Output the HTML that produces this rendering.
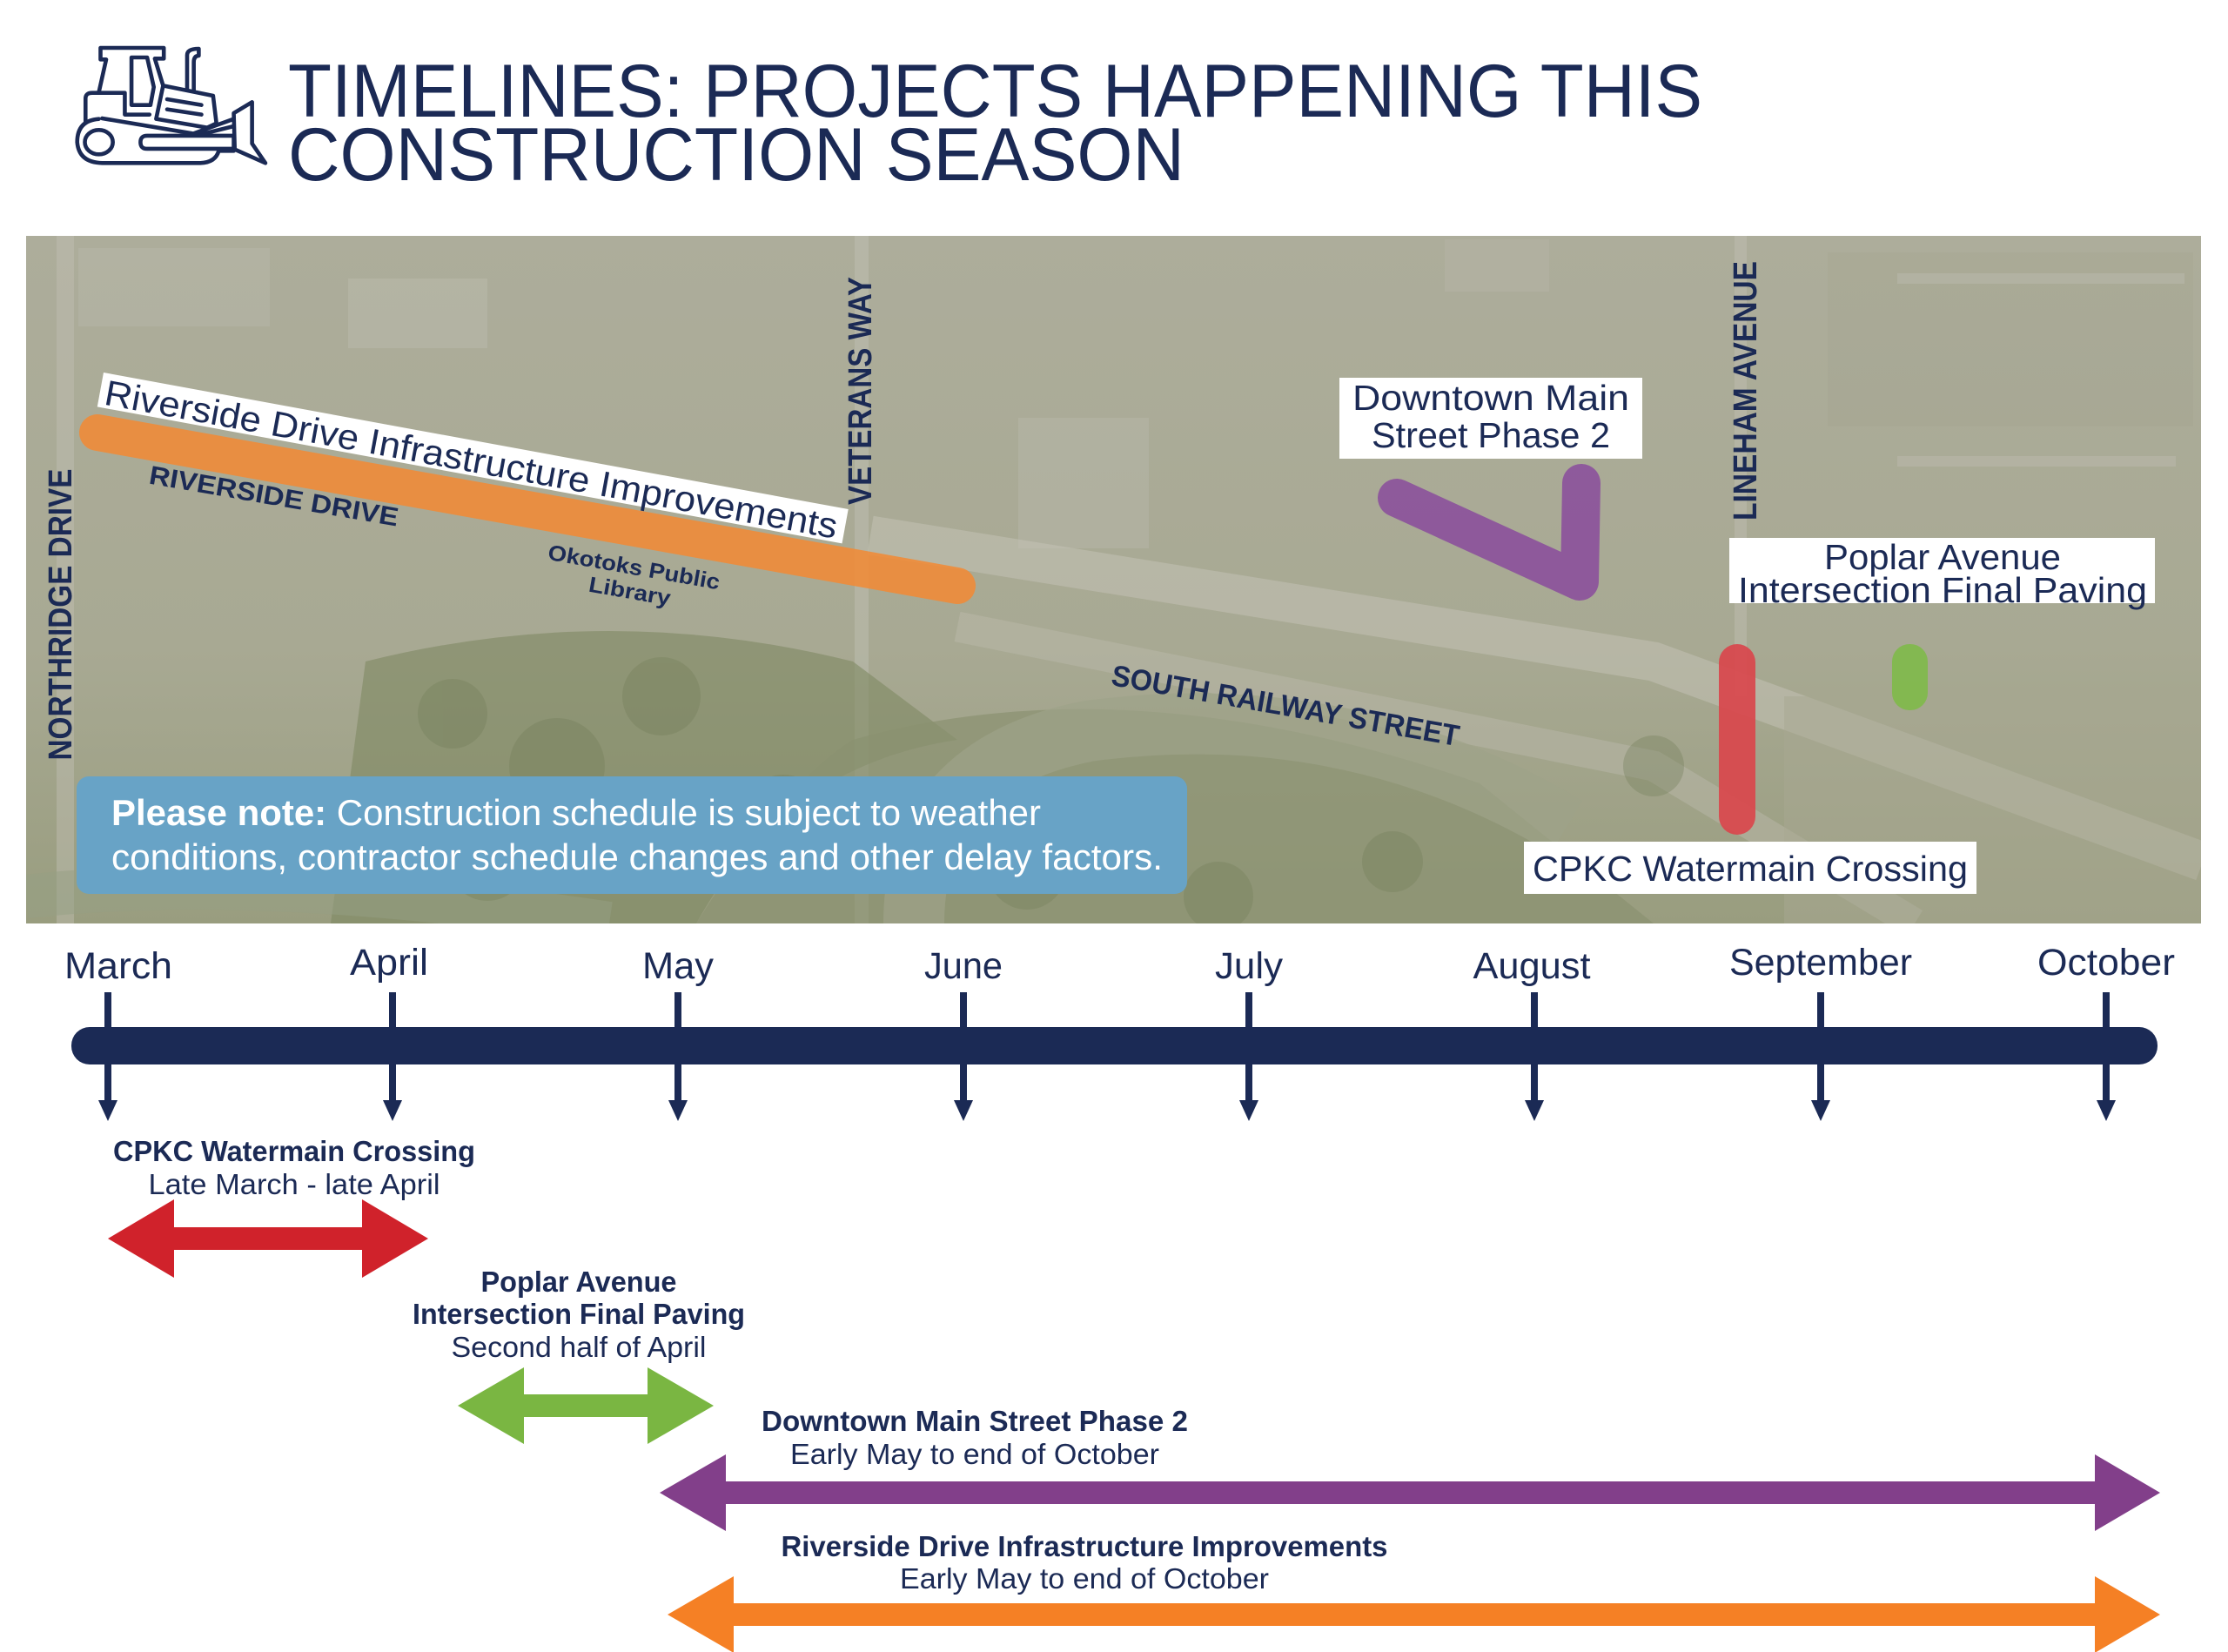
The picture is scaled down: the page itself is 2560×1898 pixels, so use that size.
<!DOCTYPE html>
<html><head><meta charset="utf-8"><style>
html,body{margin:0;padding:0;background:#fff;}
svg{display:block;}
text{font-family:"Liberation Sans",sans-serif;}
</style></head><body>
<svg width="2560" height="1898" viewBox="0 0 2560 1898" xmlns="http://www.w3.org/2000/svg">
<defs>
<clipPath id="mapc"><rect x="30" y="271" width="2499" height="790"/></clipPath>
<linearGradient id="bg" x1="0" y1="0" x2="0" y2="1">
<stop offset="0" stop-color="#adad9b"/><stop offset="0.6" stop-color="#a8a993"/><stop offset="1" stop-color="#999d7f"/>
</linearGradient>
</defs>
<rect width="2560" height="1898" fill="#fff"/>

<!-- bulldozer icon -->
<g transform="translate(60,30) scale(0.3827,0.3333)" fill="none" stroke="#1b2a55" stroke-width="4.6" stroke-linejoin="round" stroke-linecap="round">
<path vector-effect="non-scaling-stroke" d="M140,228 L162,115 H145 V75 H335 V112 H308 L333,205"/>
<path vector-effect="non-scaling-stroke" d="M238,108 H285 L305,210 L295,272 H238 Z"/>
<path vector-effect="non-scaling-stroke" d="M100,330 V250 Q100,230 120,230 H218 V305 H292"/>
<path vector-effect="non-scaling-stroke" d="M333,205 L483,240 L493,335 L465,350 L312,320 Z"/>
<path vector-effect="non-scaling-stroke" d="M345,252 L448,272 M345,287 L448,305"/>
<path vector-effect="non-scaling-stroke" d="M405,218 V100 Q405,78 440,78 V102 Q425,102 425,125 V222"/>
<path vector-effect="non-scaling-stroke" d="M150,318 L420,370 M140,320 Q75,325 75,400 Q80,470 150,472 H445 Q490,470 500,430 H545"/>
<ellipse vector-effect="non-scaling-stroke" cx="140" cy="400" rx="42" ry="42"/>
<path vector-effect="non-scaling-stroke" d="M285,378 H545 V423 H285 Q265,423 265,400 Q265,378 285,378 Z"/>
<path vector-effect="non-scaling-stroke" d="M545,300 L600,262 V405 L640,472 L548,425 Z"/>
<path vector-effect="non-scaling-stroke" d="M420,372 L545,320 M440,375 L545,345"/>
</g>

<text x="331" y="134" font-size="86" fill="#1b2a55" textLength="1625" lengthAdjust="spacingAndGlyphs">TIMELINES: PROJECTS HAPPENING THIS</text>
<text x="331" y="207" font-size="86" fill="#1b2a55" textLength="1030" lengthAdjust="spacingAndGlyphs">CONSTRUCTION SEASON</text>

<!-- map -->
<g clip-path="url(#mapc)">
<rect x="30" y="271" width="2499" height="790" fill="url(#bg)"/>
<rect x="90" y="285" width="220" height="90" fill="#b9b8ab" opacity="0.45"/>
<rect x="400" y="320" width="160" height="80" fill="#bdbcb0" opacity="0.45"/>
<rect x="1170" y="480" width="150" height="150" fill="#b8b7ab" opacity="0.45"/>
<rect x="1660" y="275" width="120" height="60" fill="#b5b3a6" opacity="0.5"/>
<rect x="2100" y="290" width="420" height="200" fill="#a4a690" opacity="0.4"/>
<path d="M1000,615 L1900,760 L2531,990" stroke="#c6c4b8" stroke-width="45" fill="none" opacity="0.5"/>
<path d="M1100,720 L1900,880 L2200,1061" stroke="#bcbbae" stroke-width="35" fill="none" opacity="0.45"/>
<path d="M990,271 V1061" stroke="#c2c1b6" stroke-width="16" fill="none" opacity="0.45"/>
<path d="M75,271 V1061" stroke="#c0bfb4" stroke-width="20" fill="none" opacity="0.45"/>
<path d="M2000,271 V800" stroke="#c0bfb4" stroke-width="14" fill="none" opacity="0.45"/>
<path d="M2180,320 H2510 M2180,530 H2500" stroke="#c0bfb4" stroke-width="12" fill="none" opacity="0.4"/>
<path d="M420,760 Q700,690 980,760 L1100,850 Q900,880 800,1061 L380,1061 Z" fill="#7f8862" opacity="0.6"/>
<path d="M980,850 Q1300,760 1700,900 L1900,1061 L800,1061 Q900,900 980,850 Z" fill="#8a9170" opacity="0.7"/>
<path d="M1050,1061 Q1050,880 1250,840 Q1550,800 1800,950" stroke="#9ea389" stroke-width="70" fill="none" opacity="0.7"/>
<path d="M30,1030 Q300,1000 700,1061" stroke="#96a083" stroke-width="50" fill="none" opacity="0.5"/>
<g fill="#737d58" opacity="0.35">
<circle cx="520" cy="820" r="40"/><circle cx="640" cy="880" r="55"/><circle cx="760" cy="800" r="45"/>
<circle cx="900" cy="940" r="50"/><circle cx="560" cy="990" r="45"/><circle cx="1180" cy="1000" r="45"/>
<circle cx="1400" cy="1030" r="40"/><circle cx="1600" cy="990" r="35"/><circle cx="1900" cy="880" r="35"/>
</g>
<rect x="2050" y="800" width="480" height="261" fill="#a7a892" opacity="0.5"/>

<line x1="112" y1="497" x2="1100" y2="673" stroke="#f38a34" stroke-width="42" stroke-linecap="round" opacity="0.85"/>
<g transform="translate(119,428) rotate(10.4)">
<rect x="0" y="0" width="870" height="40" fill="#fff"/>
<text x="6" y="36" font-size="41" fill="#1b2a55" textLength="855" lengthAdjust="spacingAndGlyphs">Riverside Drive Infrastructure Improvements</text>
</g>
<g transform="translate(313,580) rotate(9.8)">
<text x="0" y="0" font-size="30" font-weight="bold" fill="#1b2a55" text-anchor="middle" textLength="290" lengthAdjust="spacingAndGlyphs">RIVERSIDE DRIVE</text>
</g>
<g transform="translate(727,660) rotate(10)">
<text x="0" y="0" font-size="25" font-weight="bold" fill="#1b2a55" text-anchor="middle" textLength="200" lengthAdjust="spacingAndGlyphs">Okotoks Public</text>
<text x="0" y="28" font-size="25" font-weight="bold" fill="#1b2a55" text-anchor="middle" textLength="95" lengthAdjust="spacingAndGlyphs">Library</text>
</g>
<g transform="translate(1475,822) rotate(10)">
<text x="0" y="0" font-size="34" font-weight="bold" fill="#1b2a55" text-anchor="middle" textLength="405" lengthAdjust="spacingAndGlyphs">SOUTH RAILWAY STREET</text>
</g>
<text transform="translate(82,706) rotate(-90)" x="0" y="0" font-size="38" font-weight="bold" fill="#1b2a55" text-anchor="middle" textLength="335" lengthAdjust="spacingAndGlyphs">NORTHRIDGE DRIVE</text>
<text transform="translate(1001,449) rotate(-90)" x="0" y="0" font-size="38" font-weight="bold" fill="#1b2a55" text-anchor="middle" textLength="262" lengthAdjust="spacingAndGlyphs">VETERANS WAY</text>
<text transform="translate(2018,449) rotate(-90)" x="0" y="0" font-size="38" font-weight="bold" fill="#1b2a55" text-anchor="middle" textLength="298" lengthAdjust="spacingAndGlyphs">LINEHAM AVENUE</text>

<polyline points="1605,572 1815,668 1817,555" fill="none" stroke="#8a4b9c" stroke-width="44" stroke-linejoin="round" stroke-linecap="round" opacity="0.85"/>
<rect x="1975" y="740" width="42" height="219" rx="21" fill="#d9474c" opacity="0.92"/>
<rect x="2174" y="740" width="41" height="76" rx="20" fill="#7dbb45" opacity="0.85"/>

<rect x="1539" y="434" width="348" height="93" fill="#fff"/>
<text x="1713" y="471" font-size="41" fill="#1b2a55" text-anchor="middle" textLength="318" lengthAdjust="spacingAndGlyphs">Downtown Main</text>
<text x="1713" y="514" font-size="41" fill="#1b2a55" text-anchor="middle" textLength="274" lengthAdjust="spacingAndGlyphs">Street Phase 2</text>
<rect x="1987" y="618" width="489" height="75" fill="#fff"/>
<text x="2232" y="654" font-size="41" fill="#1b2a55" text-anchor="middle" textLength="272" lengthAdjust="spacingAndGlyphs">Poplar Avenue</text>
<text x="2232" y="692" font-size="41" fill="#1b2a55" text-anchor="middle" textLength="470" lengthAdjust="spacingAndGlyphs">Intersection Final Paving</text>
<rect x="1751" y="967" width="520" height="60" fill="#fff"/>
<text x="2011" y="1012" font-size="41" fill="#1b2a55" text-anchor="middle" textLength="500" lengthAdjust="spacingAndGlyphs">CPKC Watermain Crossing</text>

<rect x="88" y="892" width="1276" height="135" rx="14" fill="#68a3c6"/>
<text x="128" y="948" font-size="42" fill="#fff" textLength="1068" lengthAdjust="spacingAndGlyphs"><tspan font-weight="bold">Please note:</tspan> Construction schedule is subject to weather</text>
<text x="128" y="999" font-size="42" fill="#fff" textLength="1208" lengthAdjust="spacingAndGlyphs">conditions, contractor schedule changes and other delay factors.</text>
</g>

<g fill="#1b2a55" font-size="43" text-anchor="middle">
<text x="136" y="1124" textLength="124" lengthAdjust="spacingAndGlyphs">March</text>
<text x="447" y="1120" textLength="90" lengthAdjust="spacingAndGlyphs">April</text>
<text x="779" y="1124" textLength="82" lengthAdjust="spacingAndGlyphs">May</text>
<text x="1107" y="1124" textLength="90" lengthAdjust="spacingAndGlyphs">June</text>
<text x="1435" y="1124" textLength="78" lengthAdjust="spacingAndGlyphs">July</text>
<text x="1760" y="1124" textLength="135" lengthAdjust="spacingAndGlyphs">August</text>
<text x="2092" y="1120" textLength="210" lengthAdjust="spacingAndGlyphs">September</text>
<text x="2420" y="1120" textLength="158" lengthAdjust="spacingAndGlyphs">October</text>
</g>
<rect x="82" y="1180" width="2397" height="43" rx="21" fill="#1b2a55"/>
<g stroke="#1b2a55" stroke-width="8" fill="#1b2a55">
<g id="tk"><line x1="124" y1="1140" x2="124" y2="1268"/><polygon points="113,1264 135,1264 124,1288" stroke="none"/></g>
<use href="#tk" transform="translate(327,0)"/>
<use href="#tk" transform="translate(655,0)"/>
<use href="#tk" transform="translate(983,0)"/>
<use href="#tk" transform="translate(1311,0)"/>
<use href="#tk" transform="translate(1639,0)"/>
<use href="#tk" transform="translate(1968,0)"/>
<use href="#tk" transform="translate(2296,0)"/>
</g>

<g fill="#1b2a55" text-anchor="middle">
<text x="338" y="1334" font-size="33" font-weight="bold" textLength="416" lengthAdjust="spacingAndGlyphs">CPKC Watermain Crossing</text>
<text x="338" y="1372" font-size="33" textLength="335" lengthAdjust="spacingAndGlyphs">Late March - late April</text>
<text x="665" y="1484" font-size="33" font-weight="bold" textLength="225" lengthAdjust="spacingAndGlyphs">Poplar Avenue</text>
<text x="665" y="1521" font-size="33" font-weight="bold" textLength="382" lengthAdjust="spacingAndGlyphs">Intersection Final Paving</text>
<text x="665" y="1559" font-size="33" textLength="293" lengthAdjust="spacingAndGlyphs">Second half of April</text>
<text x="1120" y="1644" font-size="33" font-weight="bold" textLength="490" lengthAdjust="spacingAndGlyphs">Downtown Main Street Phase 2</text>
<text x="1120" y="1682" font-size="33" textLength="424" lengthAdjust="spacingAndGlyphs">Early May to end of October</text>
<text x="1246" y="1788" font-size="33" font-weight="bold" textLength="697" lengthAdjust="spacingAndGlyphs">Riverside Drive Infrastructure Improvements</text>
<text x="1246" y="1825" font-size="33" textLength="424" lengthAdjust="spacingAndGlyphs">Early May to end of October</text>
</g>

<path fill="#d0222b" d="M124,1423 L200,1378 L200,1410 L416,1410 L416,1378 L492,1423 L416,1468 L416,1436 L200,1436 L200,1468 Z"/>
<path fill="#7ab642" d="M526,1615 L602,1571 L602,1602 L744,1602 L744,1571 L820,1615 L744,1659 L744,1628 L602,1628 L602,1659 Z"/>
<path fill="#823f8a" d="M758,1715 L834,1671 L834,1702 L2407,1702 L2407,1671 L2482,1715 L2407,1759 L2407,1728 L834,1728 L834,1759 Z"/>
<path fill="#f58025" d="M767,1855 L843,1811 L843,1842 L2407,1842 L2407,1811 L2482,1855 L2407,1899 L2407,1868 L843,1868 L843,1899 Z"/>
</svg>
</body></html>
